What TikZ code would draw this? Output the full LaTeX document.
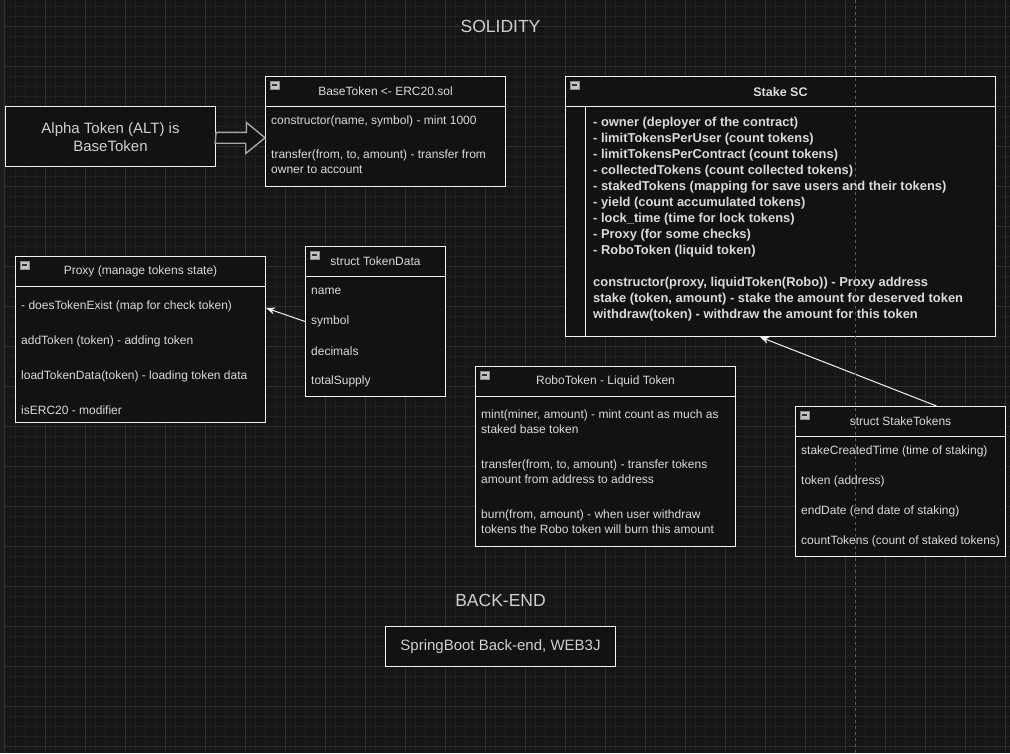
\documentclass[tikz,border=0pt]{standalone}
\usepackage{fontspec}
\setmainfont{Liberation Sans}
\usetikzlibrary{arrows.meta,calc}
\definecolor{bg}{HTML}{161616}
\definecolor{gminor}{HTML}{1F1F1F}
\definecolor{gmajor}{HTML}{303030}
\definecolor{edgestrip}{HTML}{1D1D1D}
\definecolor{boxfill}{HTML}{121212}
\definecolor{boxline}{HTML}{F2F2F2}
\definecolor{txt}{HTML}{DADADA}
\definecolor{ttl}{HTML}{D0D0D0}
\definecolor{arrowgrey}{HTML}{A8A8A8}
\definecolor{iconfill}{HTML}{C4C4C4}
\definecolor{iconline}{HTML}{8A8A8A}
\definecolor{guide}{HTML}{5A5A5A}
\newcommand\mic[1]{%
  \draw[fill=iconfill,draw=iconline,line width=0.6pt] ([xshift=5pt,yshift=-5pt]#1.north west) rectangle ++(9,8);
  \draw[draw=black!80,line width=1.2pt] ([xshift=6.8pt,yshift=-9pt]#1.north west) -- ++(5.4,0);
}
\begin{document}
\begin{tikzpicture}[x=1pt,y=-1pt,
  box/.style={draw=boxline,fill=boxfill,line width=1pt,inner sep=0pt,anchor=north west},
  hline/.style={draw=boxline,line width=1pt},
  row/.style={text=txt,font=\fontsize{12}{15}\selectfont,anchor=west,inner sep=0pt,align=left},
  hdr/.style={text=txt,font=\fontsize{12}{15}\selectfont,inner sep=0pt},
  big/.style={text=ttl,font=\fontsize{17.5}{20}\selectfont,inner sep=0pt},
  conn/.style={draw=boxline,line width=1pt,-{Stealth[length=9pt,width=7pt,fill=boxline]}},
  blockarrow/.style={draw=arrowgrey,fill=boxfill,line width=1.4pt,line join=miter}
]
\useasboundingbox (0,0) rectangle (1010,753);
\fill[bg] (0,0) rectangle (1010,753);
% grid
\foreach \x in {5,15,...,1005} \draw[gminor,line width=1pt] (\x,0) -- (\x,753);
\foreach \y in {6,16,...,746} \draw[gminor,line width=1pt] (5,\y) -- (1010,\y);
\foreach \x in {45,85,...,1005} \draw[gmajor,line width=1pt] (\x,0) -- (\x,753);
\foreach \y in {26,66,...,746} \draw[gmajor,line width=1pt] (5,\y) -- (1010,\y);
\fill[edgestrip] (0,0) rectangle (4,753);
\draw[gmajor,line width=1pt] (4.5,0) -- (4.5,753);

% titles
\node[big] (soltitle) at (500.5,26) {SOLIDITY};
\node[big] (betitle) at (500.5,600.5) {BACK-END};

% Alpha token
\node[box,minimum width=210pt,minimum height=60pt] (alpha) at (5,106) {};
\node[text=ttl,font=\fontsize{15}{17.6}\selectfont,align=center,inner sep=0pt] (alphatxt) at (110.5,137.2) {Alpha Token (ALT) is\\BaseToken};

% BaseToken
\node[box,minimum width=240pt,minimum height=110pt] (base) at (265,76) {};
\draw[hline] ([yshift=-30pt]base.north west) -- ([yshift=-30pt]base.north east);
\mic{base}
\node[hdr] (basettl) at (385.5,91.5) {BaseToken <- ERC20.sol};
\node[row] (b1) at (271,121.2) {constructor(name, symbol) - mint 1000};
\node[row] (b2) at (271,161.5) {transfer(from, to, amount) - transfer from\\owner to account};

% block arrow
\coordinate (tip) at ([yshift=-6.3pt]base.west);
\draw[blockarrow] (alpha.east |- tip) ++(0,-5.4) -- ++(30.5,0) -- ++(0,-9.8) -- (tip) -- ++(-19.3,15.7) -- ++(0,-10.3) -- ++(-30.5,0) -- cycle;

% Stake SC
\node[box,minimum width=430pt,minimum height=260pt] (stake) at (565,76) {};
\draw[hline] ([yshift=-30pt]stake.north west) -- ([yshift=-30pt]stake.north east);
\draw[hline] ([xshift=20pt,yshift=-30pt]stake.north west) -- ([xshift=20pt]stake.south west);
\mic{stake}
\node[hdr,font=\bfseries\fontsize{12.5}{15}\selectfont] (stakettl) at (780.5,92) {Stake SC};
\node[row,font=\bfseries\fontsize{12.9}{16}\selectfont] (stakebody) at (593,219.5) {- owner (deployer of the contract)\\
- limitTokensPerUser (count tokens)\\
- limitTokensPerContract (count tokens)\\
- collectedTokens (count collected tokens)\\
- stakedTokens (mapping for save users and their tokens)\\
- yield (count accumulated tokens)\\
- lock\_time (time for lock tokens)\\
- Proxy (for some checks)\\
- RoboToken (liquid token)\\[16pt]
constructor(proxy, liquidToken(Robo)) - Proxy address\\
stake (token, amount) - stake the amount for deserved token\\
withdraw(token) - withdraw the amount for this token};

% Proxy
\node[box,minimum width=250pt,minimum height=166pt] (proxy) at (15,256) {};
\draw[hline] ([yshift=-30pt]proxy.north west) -- ([yshift=-30pt]proxy.north east);
\mic{proxy}
\node[hdr] (proxyttl) at (140.5,271.5) {Proxy (manage tokens state)};
\node[row] (p1) at (21,306.2) {- doesTokenExist (map for check token)};
\node[row] (p2) at (21,341.2) {addToken (token) - adding token};
\node[row] (p3) at (21,376.2) {loadTokenData(token) - loading token data};
\node[row] (p4) at (21,410.5) {isERC20 - modifier};

% struct TokenData
\node[box,minimum width=140pt,minimum height=150pt] (td) at (305,246) {};
\draw[hline] ([yshift=-30pt]td.north west) -- ([yshift=-30pt]td.north east);
\mic{td}
\node[hdr] (tdttl) at (375.5,261.5) {struct TokenData};
\node[row] (tdname) at (311,291.5) {name};
\node[row] (tdsym) at (311,321.5) {symbol};
\node[row] (tddec) at (311,351.5) {decimals};
\node[row] (tdsup) at (311,381.5) {totalSupply};

% RoboToken
\node[box,minimum width=260pt,minimum height=180pt] (robo) at (475,366) {};
\draw[hline] ([yshift=-30pt]robo.north west) -- ([yshift=-30pt]robo.north east);
\mic{robo}
\node[hdr] (robottl) at (605.5,381.5) {RoboToken - Liquid Token};
\node[row] (r1) at (481,422) {mint(miner, amount) - mint count as much as\\staked base token};
\node[row] (r2) at (481,471.7) {transfer(from, to, amount) - transfer tokens\\amount from address to address};
\node[row] (r3) at (481,522) {burn(from, amount) - when user withdraw\\tokens the Robo token will burn this amount};

% struct StakeTokens
\node[box,minimum width=210pt,minimum height=150pt] (st) at (795,406) {};
\draw[hline] ([yshift=-30pt]st.north west) -- ([yshift=-30pt]st.north east);
\mic{st}
\node[hdr] (stttl) at (900.5,421.5) {struct StakeTokens};
\node[row] (st1) at (801,451.2) {stakeCreatedTime (time of staking)};
\node[row] (st2) at (801,481.2) {token (address)};
\node[row] (st3) at (801,511.2) {endDate (end date of staking)};
\node[row] (st4) at (801,541.2) {countTokens (count of staked tokens)};

% SpringBoot
\node[box,minimum width=230pt,minimum height=40pt] (spring) at (385,626) {};
\node[text=ttl,font=\fontsize{15}{17.6}\selectfont,inner sep=0pt] (springtxt) at (spring.center) {SpringBoot Back-end, WEB3J};

% connectors
\draw[conn] (td.west |- tdsym) -- ([yshift=31.5pt]proxy.east);
\draw[conn] ([xshift=36pt]st.north) -- ([xshift=-20.5pt]stake.south);

% page guide
\draw[guide,line width=1pt,dash pattern=on 3pt off 3pt] (855.5,0) -- (855.5,753);
\end{tikzpicture}
\end{document}
